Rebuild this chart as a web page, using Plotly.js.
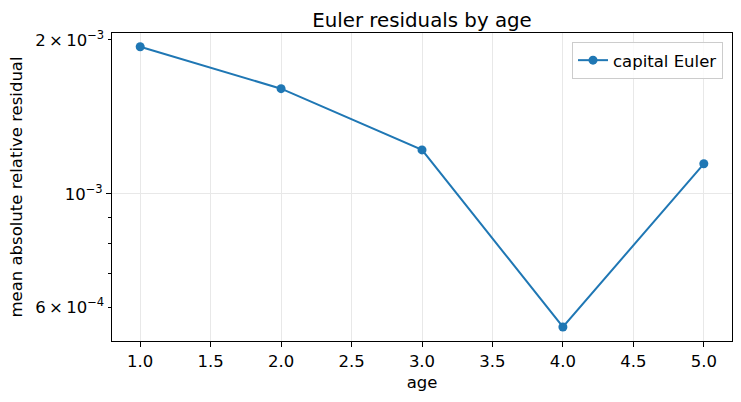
<!DOCTYPE html>
<html>
<head>
<meta charset="utf-8">
<script src="https://cdn.plot.ly/plotly-3.0.1.min.js"></script>
<style>
  html, body { margin: 0; padding: 0; background: white; }
  #chart { width: 741px; height: 402px; }
</style>
</head>
<body>
<div id="chart"></div>
<script>
// values
const ages = [1, 2, 3, 4, 5];
const capitalEuler = [1.94e-3, 1.606e-3, 1.219e-3, 5.49e-4, 1.145e-3];

const xTicks = [1.0, 1.5, 2.0, 2.5, 3.0, 3.5, 4.0, 4.5, 5.0];
const yLabelledMinor = [6e-4, 2e-3];
const yLabelledMinorText = ['6\u2009\u00d7\u200910<sup>\u22124</sup>', '2\u2009\u00d7\u200910<sup>\u22123</sup>'];
const yMinor = [7e-4, 8e-4, 9e-4];
const yMajor = [1e-3];
const yMajorText = ['10<sup>\u22123</sup>'];

const LOG_RANGE = [-3.2879, -2.6853];
const FONT = 'DejaVu Sans';
const FS = 16.5;
const BLUE = '#1f77b4';
const GRID = '#e8e8e8';

const traces = [
    {
        x: ages, y: capitalEuler,
        type: 'scatter', mode: 'lines+markers',
        name: 'capital Euler',
        line: { color: BLUE, width: 2 },
        marker: { color: BLUE, size: 9 }
    },
    // empty trace so the overlay axis (major tick + grid at 1e-3) gets drawn
    { x: [], y: [], type: 'scatter', mode: 'lines', yaxis: 'y2', showlegend: false, hoverinfo: 'skip' }
];

const layout = {
    width: 741,
    height: 402,
    margin: { l: 112, r: 9, t: 33, b: 61, pad: 0 },
    paper_bgcolor: 'white',
    plot_bgcolor: 'white',
    font: { family: FONT, size: FS, color: '#000' },
    title: {
        text: 'Euler residuals by age',
        font: { family: FONT, size: 19.8, color: '#000' },
        x: 0.5, xref: 'paper', xanchor: 'center',
        y: 1, yref: 'paper', yanchor: 'bottom',
        pad: { b: 6 }
    },
    showlegend: true,
    legend: {
        x: 0.9855, xanchor: 'right',
        y: 0.971, yanchor: 'top',
        bgcolor: 'rgba(255,255,255,0.8)',
        bordercolor: '#cccccc', borderwidth: 1,
        font: { family: FONT, size: FS, color: '#000' }
    },
    xaxis: {
        range: [0.8, 5.2],
        tickvals: xTicks,
        tickformat: '.1f',
        ticks: 'outside', ticklen: 5, tickwidth: 1, tickcolor: '#000',
        showline: true, linecolor: '#000', linewidth: 1, mirror: true,
        showgrid: true, gridcolor: GRID, gridwidth: 1,
        zeroline: false,
        automargin: true,
        title: { text: 'age', font: { family: FONT, size: FS, color: '#000' }, standoff: 6 }
    },
    yaxis: {
        type: 'log',
        range: LOG_RANGE,
        tickvals: yLabelledMinor,
        ticktext: yLabelledMinorText,
        ticks: 'outside', ticklen: 3.5, tickwidth: 1, tickcolor: '#000',
        minor: { tickvals: yMinor, ticks: 'outside', ticklen: 3.5, tickcolor: '#000', showgrid: false },
        showline: true, linecolor: '#000', linewidth: 1, mirror: true,
        showgrid: false,
        zeroline: false,
        automargin: true,
        title: { text: 'mean absolute relative residual', font: { family: FONT, size: FS, color: '#000' }, standoff: 8 }
    },
    yaxis2: {
        type: 'log',
        range: LOG_RANGE,
        overlaying: 'y',
        anchor: 'x',
        side: 'left',
        tickvals: yMajor,
        ticktext: yMajorText,
        tickfont: { family: FONT, size: FS, color: '#000' },
        ticks: 'outside', ticklen: 5, tickwidth: 1, tickcolor: '#000',
        showgrid: true, gridcolor: GRID, gridwidth: 1,
        showline: false, zeroline: false
    }
};

Plotly.newPlot('chart', traces, layout, { displayModeBar: false, responsive: false });
</script>
</body>
</html>
